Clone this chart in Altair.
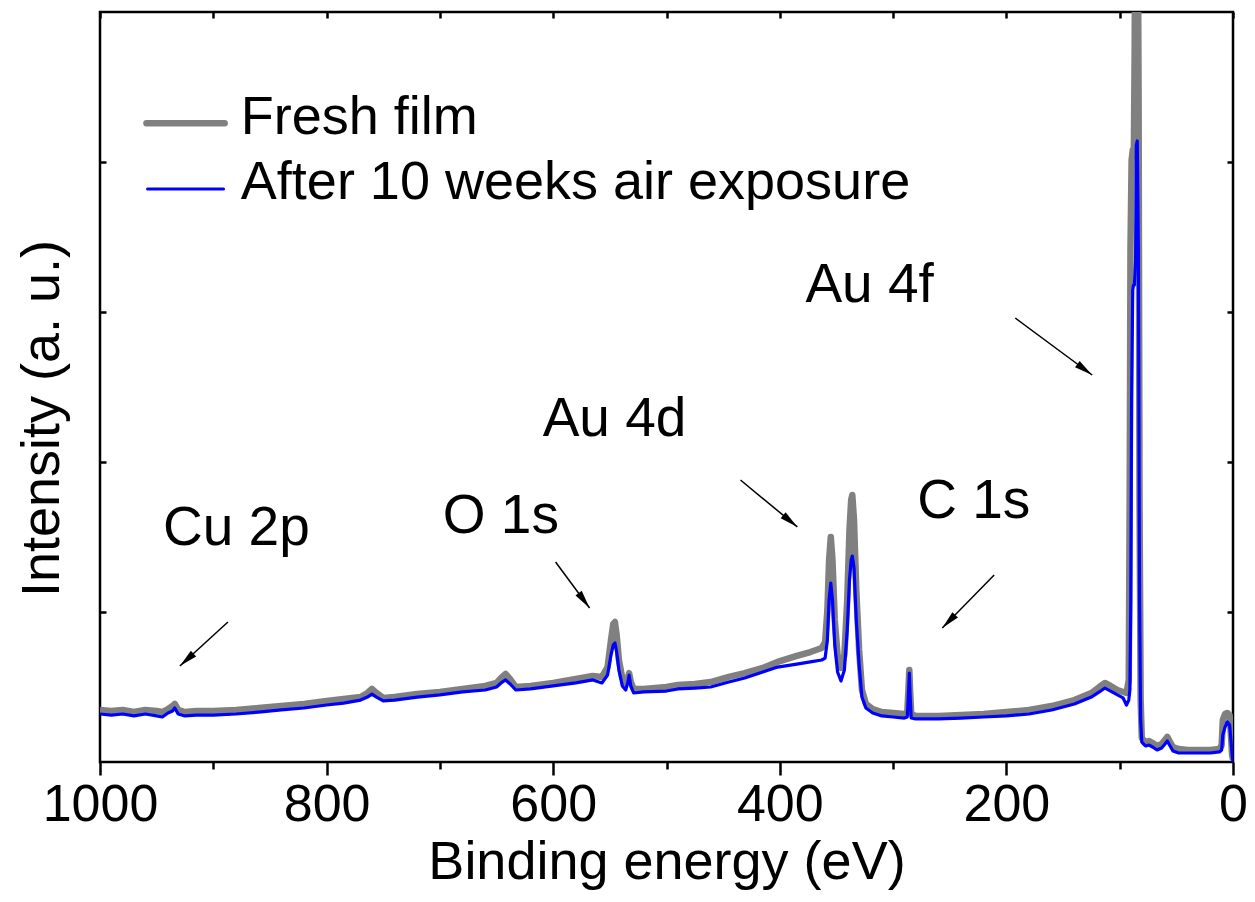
import math
import altair as alt
import pandas as pd

# ---------------- data ----------------
fresh_energy = [1000, 990, 980, 970, 960, 950, 945, 940, 936, 934, 931, 925, 915, 900, 880, 860, 840, 820, 800, 785,
                770, 764, 760, 756, 750, 740, 720, 700, 680, 660, 650, 646, 642, 638, 633, 620, 600, 580, 565, 557,
                552, 549, 547, 545.5, 544, 542, 539, 536, 534, 533, 531.5, 529, 520, 500, 490, 475, 461, 445, 431, 415,
                402, 385, 373, 363, 360, 358, 356.5, 355, 353.5, 351.5, 349, 346, 343, 340.5, 338.5, 337, 336, 334.5,
                332.5, 330, 327.5, 324, 318, 310, 300, 290, 287.5, 286.5, 285.7, 285, 284, 280, 260, 240, 220, 200,
                180, 160, 140, 125, 118, 113, 108, 102, 97, 94, 92, 91.2, 90.5, 89.5, 88.5, 87.5, 86.8, 86, 84.5,
                83.3, 82.5, 81.5, 80.5, 79, 77, 74, 71, 67, 63, 60, 58, 56, 53, 48, 40, 30, 20, 12, 10, 9, 7, 5, 3,
                1.8, 0.8, 0]
fresh_intensity = [0.347, 0.34, 0.347, 0.333, 0.347, 0.34, 0.333, 0.353, 0.373, 0.387, 0.347, 0.333, 0.34, 0.34,
                   0.347, 0.36, 0.373, 0.387, 0.407, 0.42, 0.433, 0.46, 0.487, 0.46, 0.427, 0.433, 0.453, 0.467,
                   0.487, 0.507, 0.527, 0.56, 0.587, 0.553, 0.5, 0.507, 0.527, 0.553, 0.573, 0.567, 0.633, 0.813,
                   0.92, 0.933, 0.847, 0.68, 0.56, 0.527, 0.56, 0.593, 0.533, 0.487, 0.487, 0.5, 0.513, 0.52, 0.533,
                   0.567, 0.593, 0.627, 0.667, 0.707, 0.733, 0.76, 0.8, 1.013, 1.347, 1.5, 1.347, 0.947, 0.713,
                   0.627, 0.713, 1.08, 1.547, 1.747, 1.78, 1.613, 1.147, 0.747, 0.48, 0.387, 0.353, 0.333, 0.327,
                   0.32, 0.327, 0.48, 0.613, 0.48, 0.32, 0.307, 0.307, 0.313, 0.32, 0.333, 0.347, 0.373, 0.413,
                   0.46, 0.5, 0.527, 0.507, 0.48, 0.467, 0.46, 0.547, 1.747, 3.413, 4.013, 4.08, 4.08, 4.747, 6.08,
                   6.41, 4.413, 1.747, 0.413, 0.16, 0.147, 0.133, 0.14, 0.127, 0.107, 0.12, 0.147, 0.167, 0.14, 0.1,
                   0.087, 0.08, 0.08, 0.08, 0.087, 0.113, 0.28, 0.32, 0.327, 0.313, 0.18, 0.047, 0.013]

aged_energy = [1000, 990, 980, 970, 960, 950, 945, 940, 936, 934, 931, 925, 915, 900, 880, 860, 840, 820, 800, 785,
               770, 764, 760, 756, 750, 740, 720, 700, 680, 660, 650, 646, 642, 638, 633, 620, 600, 580, 565, 557,
               552, 549, 547, 545.5, 544, 542, 539, 536, 534, 533, 531.5, 529, 520, 500, 490, 475, 461, 445, 431, 415,
               402, 385, 373, 363, 360, 358, 356.5, 355, 353.5, 351.5, 349, 346, 343, 340.5, 338.5, 337, 336, 334.5,
               332.5, 330, 327.5, 324, 318, 310, 300, 290, 287.5, 286.5, 285.7, 285, 284, 280, 260, 240, 220, 200,
               180, 160, 140, 125, 118, 113, 108, 102, 97, 94, 92, 91, 90.2, 89.5, 88.5, 87.8, 87, 86, 85.3, 84.5,
               83.5, 82.5, 81.5, 80.5, 79, 77, 74, 71, 67, 63, 60, 58, 56, 53, 48, 40, 30, 20, 12, 10, 9, 7, 5, 3,
               1.8, 0.8, 0]
aged_intensity = [0.32, 0.313, 0.32, 0.307, 0.32, 0.307, 0.3, 0.327, 0.34, 0.36, 0.32, 0.307, 0.313, 0.313, 0.32,
                  0.333, 0.347, 0.36, 0.38, 0.393, 0.413, 0.433, 0.453, 0.433, 0.407, 0.413, 0.433, 0.447, 0.467,
                  0.48, 0.5, 0.527, 0.547, 0.52, 0.48, 0.487, 0.507, 0.527, 0.547, 0.527, 0.58, 0.713, 0.78, 0.793,
                  0.733, 0.613, 0.507, 0.48, 0.533, 0.58, 0.507, 0.46, 0.467, 0.473, 0.487, 0.493, 0.5, 0.533, 0.56,
                  0.6, 0.633, 0.653, 0.667, 0.68, 0.693, 0.813, 1.08, 1.193, 1.08, 0.78, 0.6, 0.54, 0.613, 0.88,
                  1.213, 1.347, 1.373, 1.293, 0.947, 0.647, 0.433, 0.36, 0.327, 0.307, 0.3, 0.293, 0.3, 0.447, 0.593,
                  0.447, 0.293, 0.287, 0.287, 0.293, 0.3, 0.307, 0.32, 0.347, 0.387, 0.433, 0.467, 0.493, 0.473,
                  0.447, 0.427, 0.38, 0.413, 0.48, 1.08, 2.413, 3.147, 3.18, 3.18, 3.347, 4.113, 4.14, 3.413, 1.08,
                  0.28, 0.133, 0.12, 0.107, 0.113, 0.1, 0.08, 0.093, 0.12, 0.14, 0.113, 0.073, 0.06, 0.06, 0.06,
                  0.06, 0.067, 0.08, 0.18, 0.233, 0.267, 0.247, 0.147, 0.047, 0.0]

series_names = ["Fresh film", "After 10 weeks air exposure"]
series_colors = ["#808080", "#0000ff"]

peak_labels = ["Cu 2p", "O 1s", "Au 4d", "C 1s", "Au 4f"]
label_energy = [944.4, 697.5, 609.3, 278.7, 377.4]
label_intensity = [1.447, 1.527, 2.173, 1.627, 3.067]

arrow_tail_energy = [887.1, 597.9, 434.7, 210.8, 192.2]
arrow_tail_intensity = [0.933, 1.333, 1.88, 1.247, 2.96]
arrow_head_energy = [929.5, 567.9, 384.5, 256.6, 124.3]
arrow_head_intensity = [0.64, 1.027, 1.567, 0.893, 2.58]

legend_line_start = [959.0, 958.0]
legend_line_end = [890.0, 891.0]
legend_line_intensity = [4.258, 3.82]
legend_text_energy = [875.7, 875.7]
legend_text_intensity = [4.187, 3.753]

x_major = [0, 200, 400, 600, 800, 1000]
x_minor = [100, 300, 500, 700, 900]
x_all = list(range(0, 1001, 100))
y_ticks = [1, 2, 3, 4]

# ---------------- chart ----------------
FONT = "Liberation Sans, Arial, sans-serif"
W, H = 1133, 750
X_DOM = [1000, 0]
Y_DOM = [0, 5]

fresh_df = pd.DataFrame({"E": fresh_energy, "I": fresh_intensity})
aged_df = pd.DataFrame({"E": aged_energy, "I": aged_intensity})

# arrow head orientation from the data direction (pixel aspect of the scales)
px_per_e = W / abs(X_DOM[1] - X_DOM[0])
px_per_i = H / (Y_DOM[1] - Y_DOM[0])
angles = []
for e0, i0, e1, i1 in zip(arrow_tail_energy, arrow_tail_intensity, arrow_head_energy, arrow_head_intensity):
    dx = -(e1 - e0) * px_per_e
    dy = -(i1 - i0) * px_per_i
    angles.append(math.degrees(math.atan2(dx, -dy)) % 360)

arrow_df = pd.DataFrame({
    "E0": arrow_tail_energy, "I0": arrow_tail_intensity,
    "E1": arrow_head_energy, "I1": arrow_head_intensity, "ang": angles,
})
label_df = pd.DataFrame({"E": label_energy, "I": label_intensity, "t": peak_labels})
legend_df = pd.DataFrame({
    "E0": legend_line_start, "E1": legend_line_end, "I": legend_line_intensity,
    "TE": legend_text_energy, "TI": legend_text_intensity, "name": series_names, "color": series_colors,
})

xs = alt.Scale(domain=X_DOM, nice=False, zero=False)
ys = alt.Scale(domain=Y_DOM, nice=False, zero=False)

fresh = alt.Chart(fresh_df).mark_line(
    color=series_colors[0], strokeWidth=6.5, clip=True, strokeJoin="round"
).encode(
    x=alt.X("E:Q", scale=xs, axis=alt.Axis(
        orient="bottom", values=x_major, format="d", tickSize=13, labelPadding=45,
        labelBaseline="alphabetic", labelFontSize=52, labelFlush=False,
        title="Binding energy (eV)", titleFontSize=54, titleY=116, titleBaseline="alphabetic")),
    y=alt.Y("I:Q", scale=ys, axis=alt.Axis(
        orient="left", values=y_ticks, offset=-6, tickSize=6, labels=False,
        title="Intensity (a. u.)", titleFontSize=54, titleX=-48, titleY=406, titleAngle=270,
        titleBaseline="alphabetic", titleAlign="center")),
)

aged = alt.Chart(aged_df).mark_line(
    color=series_colors[1], strokeWidth=3.2, clip=True, strokeJoin="round"
).encode(
    x=alt.X("E:Q", scale=xs, axis=alt.Axis(
        orient="bottom", values=x_minor, tickSize=7, labels=False, title=None)),
    y=alt.Y("I:Q", scale=ys, axis=alt.Axis(
        orient="right", values=y_ticks, offset=-6, tickSize=6, labels=False, title=None)),
)

arrow_lines = alt.Chart(arrow_df).mark_rule(color="black", strokeWidth=1.5).encode(
    x=alt.X("E0:Q", scale=xs, axis=alt.Axis(
        orient="top", values=x_all, offset=-6, tickSize=6, labels=False, title=None)),
    x2="E1:Q",
    y=alt.Y("I0:Q", scale=ys, axis=None),
    y2="I1:Q",
)

arrow_heads = alt.Chart(arrow_df).mark_point(
    shape="M0,0L0.42,2L-0.42,2Z", filled=True, color="black", opacity=1, size=340, strokeWidth=0
).encode(
    x=alt.X("E1:Q", scale=xs, axis=None),
    y=alt.Y("I1:Q", scale=ys, axis=None),
    angle=alt.Angle("ang:Q", scale=None),
)

labels = alt.Chart(label_df).mark_text(
    font=FONT, fontSize=55, align="left", baseline="alphabetic", color="black"
).encode(
    x=alt.X("E:Q", scale=xs, axis=None),
    y=alt.Y("I:Q", scale=ys, axis=None),
    text="t:N",
)

legend_lines = alt.Chart(legend_df).mark_rule(strokeCap="round").encode(
    x=alt.X("E0:Q", scale=xs, axis=None),
    x2="E1:Q",
    y=alt.Y("I:Q", scale=ys, axis=None),
    color=alt.Color("color:N", scale=None),
    strokeWidth=alt.StrokeWidth("name:N", scale=alt.Scale(domain=series_names, range=[6.5, 3.2]), legend=None),
)

legend_text = alt.Chart(legend_df).mark_text(
    font=FONT, fontSize=54, align="left", baseline="alphabetic", color="black"
).encode(
    x=alt.X("TE:Q", scale=xs, axis=None),
    y=alt.Y("TI:Q", scale=ys, axis=None),
    text="name:N",
)

chart = alt.layer(
    fresh, aged, arrow_lines, arrow_heads, labels, legend_lines, legend_text
).resolve_axis(x="independent", y="independent").properties(
    width=W, height=H,
    autosize=alt.AutoSizeParams(type="none"),
    padding={"left": 92, "top": 4, "right": 14, "bottom": 132},
).configure_axis(
    labelFont=FONT, titleFont=FONT, labelColor="black", titleColor="black",
    tickColor="black", tickWidth=2.5, domain=False, grid=False, titleFontWeight="normal",
).configure_view(stroke="black", strokeWidth=2.5)

chart.save("out.html", embed_options={"renderer": "svg", "actions": False})
